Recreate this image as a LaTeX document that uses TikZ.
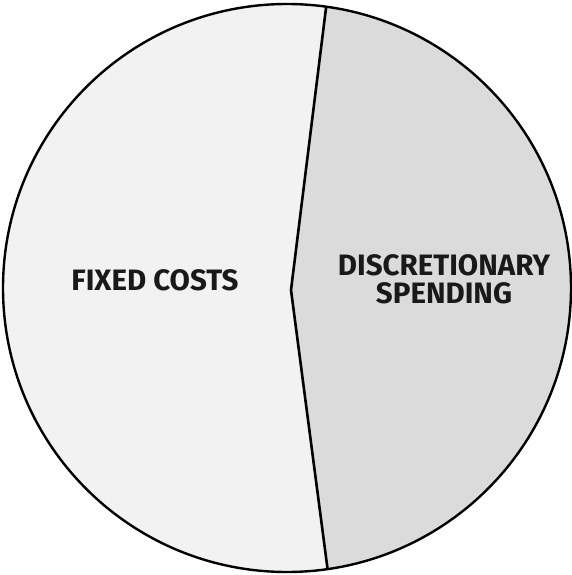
\documentclass[tikz,border=0pt]{standalone}
\usepackage{fontspec}
\setmainfont{Fira Sans}
\begin{document}
\begin{tikzpicture}[x=1pt,y=-1pt,
  label/.style={font=\bfseries\fontsize{29.5}{32}\selectfont, align=center, text=black!90},
  edge/.style={line width=2.6pt, black}]
\useasboundingbox (0,0) rectangle (572,575);
\coordinate (ctr) at (287,288);
\coordinate (top) at (327,0);
\coordinate (kink) at (291,290);
\coordinate (bot) at (329,580);
\begin{scope}
  \clip (ctr) circle (284);
  \fill[black!5] (-10,-10) -- (top) -- (kink) -- (bot) -- (-10,590) -- cycle;
  \fill[black!14] (top) -- (kink) -- (bot) -- (590,590) -- (590,-10) -- cycle;
  \draw[edge] (top) -- (kink) -- (bot);
\end{scope}
\draw[line width=2.4pt] (ctr) circle (284);
\node[label] (fixed) at (155,280) {FIXED COSTS};
\node[label] (disc) at (444,279) {DISCRETIONARY\\[-4pt]SPENDING};
\end{tikzpicture}
\end{document}
